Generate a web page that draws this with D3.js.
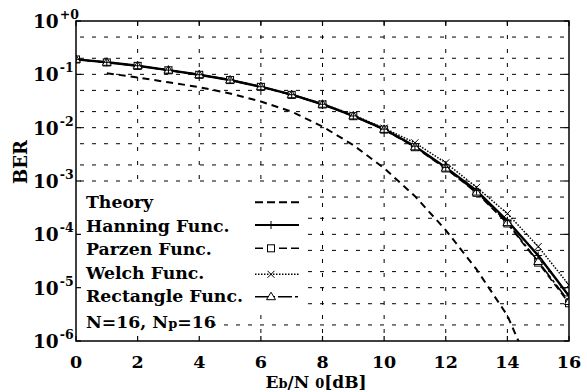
<!DOCTYPE html>
<html>
<head>
<meta charset="utf-8">
<script src="https://cdn.jsdelivr.net/npm/d3@7"></script>
<style>
  html, body { margin: 0; padding: 0; background: #fff; }
  svg { display: block; }
  text { font-family: "DejaVu Serif", "Liberation Serif", serif; font-weight: bold; fill: #000; }
</style>
</head>
<body>
<svg id="chart" width="587" height="392"></svg>
<script>
// ---- data ----
const ebno = [0, 1, 2, 3, 4, 5, 6, 7, 8, 9, 10, 11, 12, 13, 14, 15, 16];
const theoryX = [1, 2, 3, 4, 5, 6, 7, 8, 9, 10, 11, 12, 13, 14, 15];
const theory = [0.105, 0.087, 0.071, 0.0575, 0.0437, 0.0309, 0.020, 0.0105, 0.0047, 0.00174, 5.2e-4, 1.2e-4, 2.2e-5, 3.0e-6, 1.4e-7];
const hanning = [0.191, 0.168, 0.145, 0.120, 0.0984, 0.0783, 0.0586, 0.0415, 0.0275, 0.0166, 0.0094, 0.0045, 0.0018, 6.6e-4, 1.8e-4, 4.0e-5, 7.0e-6];
const parzen = [0.190, 0.167, 0.144, 0.119, 0.0980, 0.0780, 0.0583, 0.0412, 0.0272, 0.0164, 0.0092, 0.0043, 0.00172, 6.0e-4, 1.6e-4, 2.95e-5, 5.1e-6];
const welch = [0.191, 0.168, 0.145, 0.120, 0.0986, 0.0786, 0.0590, 0.0420, 0.0282, 0.0172, 0.0098, 0.0052, 0.00219, 7.6e-4, 2.45e-4, 5.9e-5, 1.12e-5];
const rectangle = [0.191, 0.168, 0.145, 0.120, 0.0984, 0.0783, 0.0586, 0.0415, 0.0275, 0.0166, 0.0093, 0.00437, 0.00174, 6.2e-4, 1.66e-4, 3.1e-5, 5.5e-6];
const xTicks = [0, 2, 4, 6, 8, 10, 12, 14, 16];
const yTicks = [1, 1e-1, 1e-2, 1e-3, 1e-4, 1e-5, 1e-6];
const yTickExp = ["+0", "-1", "-2", "-3", "-4", "-5", "-6"];
const gridY = [0.5, 0.2, 0.1, 0.05, 0.02, 0.01, 5e-3, 2e-3, 1e-3, 5e-4, 2e-4, 1e-4, 5e-5, 2e-5, 1e-5, 5e-6, 2e-6];
const legendLabels = ["Theory", "Hanning Func.", "Parzen Func.", "Welch Func.", "Rectangle Func."];

// ---- layout ----
const L = 76, R = 569, T = 21, B = 341;
const svg = d3.select("#chart");
const x = d3.scaleLinear().domain([0, 16]).range([L, R]);
const y = d3.scaleLog().domain([1e-6, 1]).range([B, T]);

svg.append("defs").append("clipPath").attr("id", "clip")
  .append("rect").attr("x", L).attr("y", T).attr("width", R - L).attr("height", B - T);

// grid
const grid = svg.append("g");
grid.selectAll("line.h").data(gridY).join("line")
  .attr("x1", L).attr("x2", R)
  .attr("y1", d => y(d)).attr("y2", d => y(d))
  .attr("stroke", "#000").attr("stroke-width", 1)
  .attr("stroke-dasharray", "4,8").attr("stroke-dashoffset", -4);
grid.selectAll("line.v").data(xTicks.slice(1, -1)).join("line")
  .attr("x1", d => x(d)).attr("x2", d => x(d))
  .attr("y1", T).attr("y2", B)
  .attr("stroke", "#000").attr("stroke-width", 1)
  .attr("stroke-dasharray", "4,10");

// curves
const plot = svg.append("g").attr("clip-path", "url(#clip)");
const lineGen = d3.line().x(d => x(d[0])).y(d => y(d[1]));
const series = [
  { name: "Theory", xs: theoryX, ys: theory, dash: "7,5", w: 2, marker: null },
  { name: "Welch", xs: ebno, ys: welch, dash: "1.5,1.5", w: 1.5, marker: "x" },
  { name: "Parzen", xs: ebno, ys: parzen, dash: "7,4", w: 1.6, marker: "square" },
  { name: "Rectangle", xs: ebno, ys: rectangle, dash: "14,3,3,3", w: 1.6, marker: "triangle" },
  { name: "Hanning", xs: ebno, ys: hanning, dash: null, w: 2.4, marker: "plus" }
];
series.forEach(s => {
  const pts = s.xs.map((v, i) => [v, s.ys[i]]);
  plot.append("path").datum(pts)
    .attr("d", lineGen).attr("fill", "none")
    .attr("stroke", "#000").attr("stroke-width", s.w)
    .attr("stroke-dasharray", s.dash);
});

function drawMarker(g, type, cx, cy) {
  if (type === "square") {
    g.append("rect").attr("x", cx - 3.5).attr("y", cy - 3.5).attr("width", 7).attr("height", 7)
      .attr("fill", "#fff").attr("stroke", "#000").attr("stroke-width", 1);
  } else if (type === "triangle") {
    g.append("path").attr("d", `M${cx},${cy - 4.5}L${cx + 4.5},${cy + 3}L${cx - 4.5},${cy + 3}Z`)
      .attr("fill", "#fff").attr("stroke", "#000").attr("stroke-width", 1);
  } else if (type === "x") {
    g.append("path").attr("d", `M${cx - 3.5},${cy - 3.5}L${cx + 3.5},${cy + 3.5}M${cx - 3.5},${cy + 3.5}L${cx + 3.5},${cy - 3.5}`)
      .attr("stroke", "#000").attr("stroke-width", 1);
  } else if (type === "plus") {
    g.append("path").attr("d", `M${cx - 4},${cy}L${cx + 4},${cy}M${cx},${cy - 4}L${cx},${cy + 4}`)
      .attr("stroke", "#000").attr("stroke-width", 1);
  }
}
const markerOrder = ["Welch", "Parzen", "Rectangle", "Hanning"];
markerOrder.forEach(n => {
  const s = series.find(q => q.name === n);
  s.xs.forEach((v, i) => drawMarker(plot, s.marker, x(v), y(s.ys[i])));
});

// legend
const lg = svg.append("g");
lg.append("rect").attr("x", L + 1).attr("y", 186).attr("width", 304 - L - 1).attr("height", 125).attr("fill", "#fff");
lg.append("rect").attr("x", L + 1).attr("y", 311).attr("width", 214 - L - 1).attr("height", 25).attr("fill", "#fff");
const rowBase = [207.5, 231.5, 255, 278.5, 301.7];
const rowLine = [202.3, 225, 248.3, 274.3, 296.7];
const legendStyles = [
  { dash: "8,4", w: 2, marker: null },
  { dash: null, w: 2, marker: "plus" },
  { dash: "8,4", w: 1.6, marker: "square" },
  { dash: "1.5,1.5", w: 1.5, marker: "x" },
  { dash: "14,3,3,3", w: 1.6, marker: "triangle" }
];
legendLabels.forEach((lab, i) => {
  lg.append("text").attr("x", 86).attr("y", rowBase[i]).attr("font-size", 17.3).text(lab);
  const st = legendStyles[i];
  lg.append("line").attr("x1", 255).attr("x2", 299).attr("y1", rowLine[i]).attr("y2", rowLine[i])
    .attr("stroke", "#000").attr("stroke-width", st.w).attr("stroke-dasharray", st.dash);
  if (st.marker) drawMarker(lg, st.marker, 271, rowLine[i]);
});
const nt = lg.append("text").attr("x", 86).attr("y", 328.3).attr("font-size", 17.3);
nt.append("tspan").text("N=16, N");
nt.append("tspan").attr("font-size", 13).text("p");
nt.append("tspan").text("=16");

// frame
svg.append("rect").attr("x", L).attr("y", T).attr("width", R - L).attr("height", B - T)
  .attr("fill", "none").attr("stroke", "#000").attr("stroke-width", 1.5);

// ticks
const tk = svg.append("g").attr("stroke", "#000").attr("stroke-width", 1.2);
xTicks.forEach(v => {
  tk.append("line").attr("x1", x(v)).attr("x2", x(v)).attr("y1", B).attr("y2", B - 5);
  tk.append("line").attr("x1", x(v)).attr("x2", x(v)).attr("y1", T).attr("y2", T + 5);
});
yTicks.forEach(v => {
  tk.append("line").attr("x1", L).attr("x2", L + 5).attr("y1", y(v)).attr("y2", y(v));
  tk.append("line").attr("x1", R).attr("x2", R - 5).attr("y1", y(v)).attr("y2", y(v));
});

// tick labels
svg.append("g").selectAll("text").data(xTicks).join("text")
  .attr("x", d => x(d)).attr("y", 368).attr("text-anchor", "middle")
  .attr("font-size", 17.5).text(d => d);
yTicks.forEach((v, i) => {
  const t = svg.append("text").attr("x", 33).attr("y", y(v) + 7).attr("font-size", 18.5);
  t.append("tspan").text("10");
  t.append("tspan").attr("dx", 1).attr("dy", -9).attr("font-size", 12.5).text(yTickExp[i]);
});

// axis titles
const xt = svg.append("text").attr("x", 316).attr("y", 388).attr("text-anchor", "middle").attr("font-size", 17);
xt.append("tspan").text("E");
xt.append("tspan").attr("font-size", 13).text("b");
xt.append("tspan").text("/N ");
xt.append("tspan").attr("font-size", 13).text("0");
xt.append("tspan").text("[dB]");
svg.append("text").attr("transform", "translate(27,162) rotate(-90)")
  .attr("text-anchor", "middle").attr("font-size", 18).text("BER");
</script>
</body>
</html>
